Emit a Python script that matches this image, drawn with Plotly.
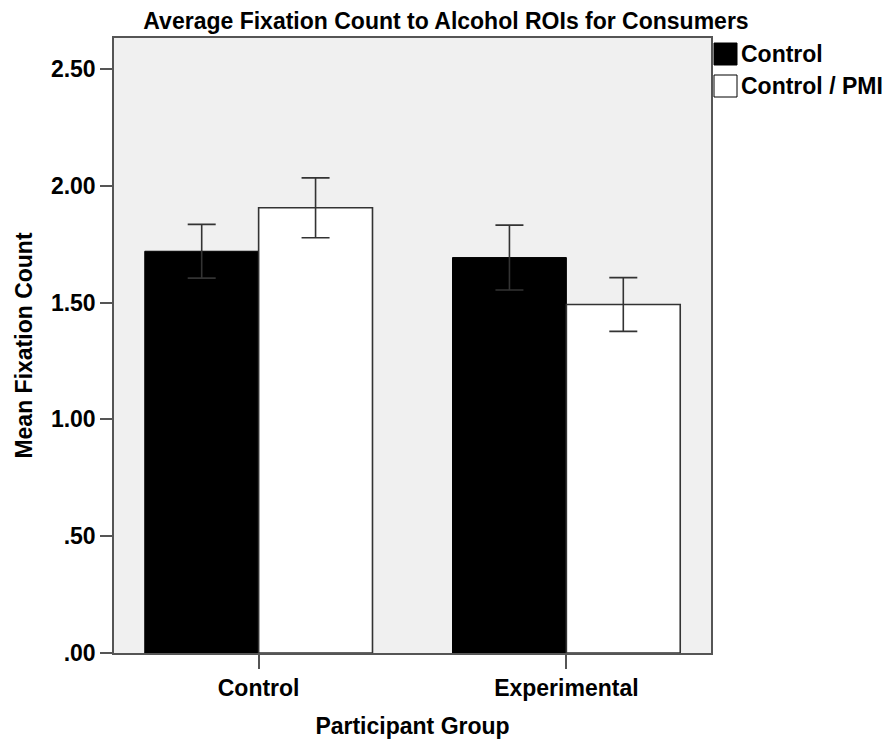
import plotly.graph_objects as go

groups = ["Control", "Experimental"]
series_names = ["Control", "Control / PMI"]
control_means = [1.720, 1.693]
control_err = [0.115, 0.139]
pmi_means = [1.906, 1.492]
pmi_err = [0.128, 0.115]
ytick_vals = [0, 0.5, 1.0, 1.5, 2.0, 2.5]
ytick_text = [".00", ".50", "1.00", "1.50", "2.00", "2.50"]

FONT = "Liberation Sans"
EDGE = "#333333"

fig = go.Figure()
fig.add_trace(go.Bar(
    x=groups, y=control_means, name=series_names[0],
    marker=dict(color="black", line=dict(color="black", width=1)),
    error_y=dict(type="data", array=control_err, color=EDGE, thickness=1.6, width=14),
    showlegend=False,
))
fig.add_trace(go.Bar(
    x=groups, y=pmi_means, name=series_names[1],
    marker=dict(color="white", line=dict(color=EDGE, width=1.6)),
    error_y=dict(type="data", array=pmi_err, color=EDGE, thickness=1.6, width=14),
    showlegend=False,
))

W, H = 892, 740
L, R, T, B = 114, 181, 38, 87
pw, ph = W - L - R, H - T - B

def px2x(px):
    return (px - L) / pw

def py2y(py):
    return (H - B - py) / ph

shapes = []
annotations = []
legend_items = [(series_names[0], "black", 43, 65), (series_names[1], "white", 75, 97)]
for name, col, top, bot in legend_items:
    shapes.append(dict(type="rect", xref="paper", yref="paper",
                       x0=px2x(714), x1=px2x(737), y0=py2y(bot), y1=py2y(top),
                       fillcolor=col, line=dict(color="black", width=1)))
    annotations.append(dict(xref="paper", yref="paper", x=px2x(739), y=py2y((top + bot) / 2),
                            text="<b>" + name + "</b>", showarrow=False, xanchor="left", yanchor="middle",
                            font=dict(family=FONT, size=23, color="black")))

fig.update_layout(
    width=W, height=H,
    margin=dict(l=L, r=R, t=T, b=B),
    paper_bgcolor="white", plot_bgcolor="#f0f0f0",
    barmode="group", bargap=0.26, bargroupgap=0,
    font=dict(family=FONT, color="black"),
    title=dict(text="<b>Average Fixation Count to Alcohol ROIs for Consumers</b>",
               x=0.5, xanchor="center", y=1 - 21 / H, yanchor="middle",
               font=dict(family=FONT, size=23, color="black")),
    xaxis=dict(range=[-0.47, 1.47], showgrid=False, zeroline=False, automargin=False,
               showline=True, linecolor="#555555", linewidth=1.5, mirror=True,
               ticks="outside", ticklen=14, tickcolor="#555555", tickwidth=1.5,
               tickmode="array", tickvals=groups, ticktext=["<b>" + g + "</b>" for g in groups],
               tickfont=dict(family=FONT, size=23, color="black"),
               title=dict(text="<b>Participant Group</b>", standoff=18,
                          font=dict(family=FONT, size=23, color="black"))),
    yaxis=dict(range=[0, 2.633], showgrid=False, zeroline=False, automargin=False,
               showline=True, linecolor="#555555", linewidth=1.5, mirror=True,
               tickmode="array", tickvals=ytick_vals, ticktext=["<b>" + t + "</b>" for t in ytick_text],
               ticks="outside", ticklen=12, tickcolor="#555555", tickwidth=1.5,
               tickfont=dict(family=FONT, size=23, color="black"),
               title=dict(text="<b>Mean Fixation Count</b>", standoff=12,
                          font=dict(family=FONT, size=23, color="black"))),
    shapes=shapes, annotations=annotations,
)

fig.write_html("out.html")
